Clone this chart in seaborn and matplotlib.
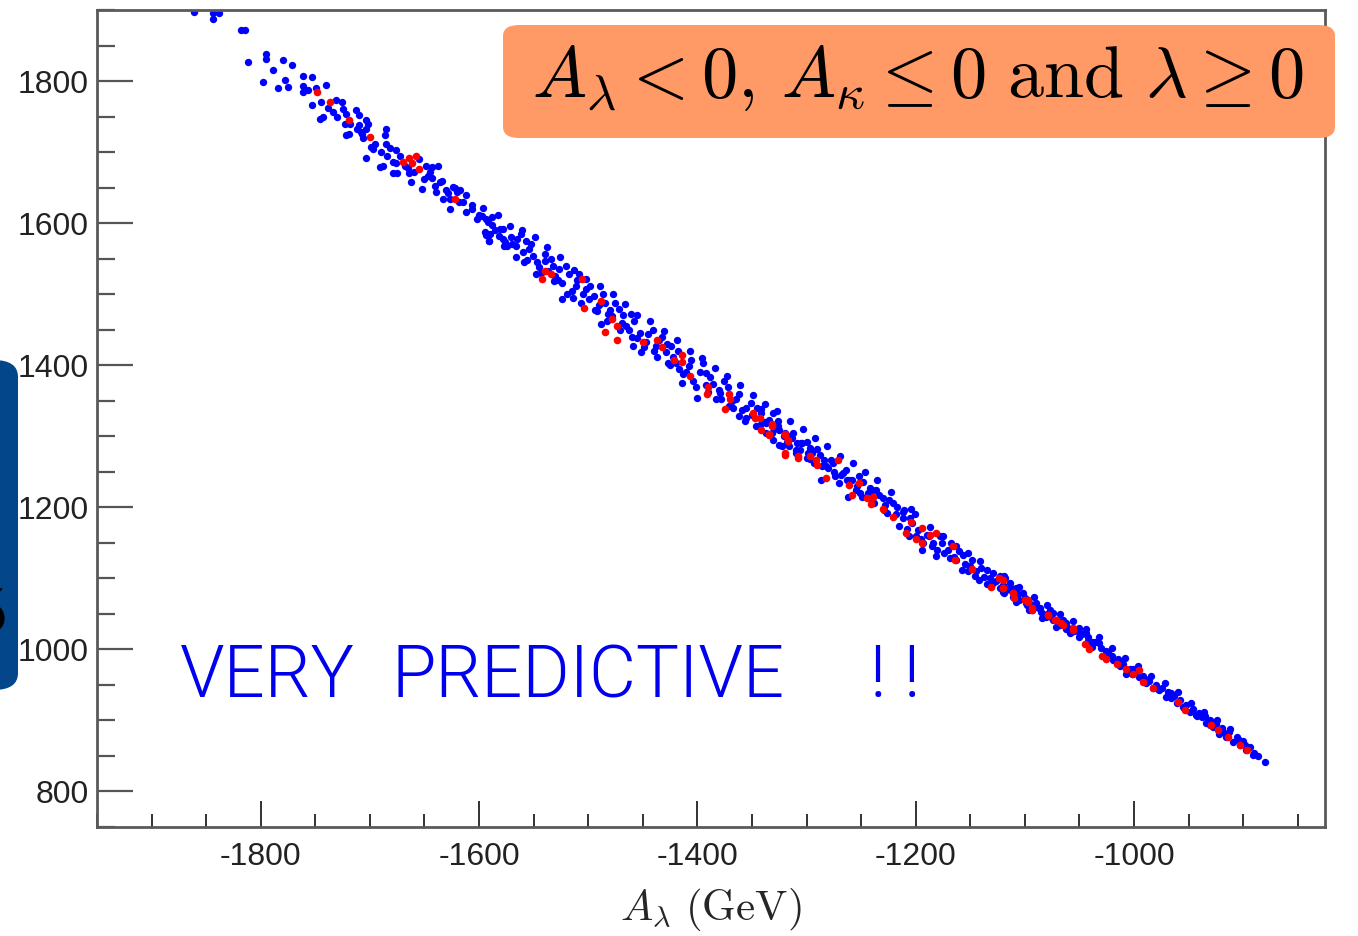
import numpy as np
import pandas as pd
import matplotlib
matplotlib.use("Agg")
import matplotlib.pyplot as plt
from matplotlib.patches import FancyBboxPatch
from matplotlib.ticker import MultipleLocator
import seaborn as sns

# scan points (A_lambda, A_kappa)
blue_x = [-1861, -1844, -1844, -1838, -1818, -1814, -1812, -1795, -1795, -1780,
          -1771, -1789, -1798, -1778, -1784, -1775, -1761, -1753, -1761, -1757,
          -1749, -1761, -1740, -1753, -1746, -1743, -1731, -1725, -1734, -1722,
          -1713, -1710, -1704, -1723, -1722, -1719, -1710, -1708, -1704, -1707,
          -1699, -1697, -1704, -1685, -1686, -1685, -1676, -1684, -1679, -1691,
          -1688, -1676, -1679, -1675, -1665, -1664, -1662, -1652, -1649, -1643,
          -1638, -1647, -1643, -1636, -1639, -1630, -1627, -1633, -1624, -1620,
          -1617, -1627, -1615, -1612, -1606, -1600, -1594, -1588, -1581, -1594,
          -1591, -1578, -1574,
          -1597, -1592, -1595, -1591, -1588, -1582, -1576, -1571, -1566, -1562,
          -1557, -1554, -1551, -1559, -1547, -1540, -1534, -1548, -1537, -1530,
          -1527, -1524, -1518, -1511, -1524, -1514, -1508, -1502, -1499, -1495,
          -1492, -1485, -1482, -1488, -1478, -1472, -1469, -1461, -1463, -1459,
          -1453, -1452, -1447, -1441, -1438, -1435, -1429, -1424, -1427, -1420,
          -1417, -1414, -1408, -1404, -1400, -1395, -1392, -1386, -1383, -1379,
          -1372, -1371, -1365, -1362, -1359, -1356, -1351, -1346, -1342, -1337,
          -1334, -1331, -1325, -1322, -1316, -1310, -1304, -1299,
          -1342, -1337, -1331, -1326, -1325, -1320, -1316, -1313, -1310, -1305,
          -1300, -1297, -1293, -1288, -1287, -1282, -1278, -1274, -1270, -1267,
          -1262, -1261, -1255, -1252, -1249, -1242, -1236, -1238, -1230, -1226,
          -1221, -1215, -1212, -1204, -1203, -1200, -1194, -1190, -1184, -1178,
          -1174, -1168, -1163, -1157, -1152, -1148, -1142, -1135, -1129, -1123,
          -1119, -1114, -1108, -1102, -1096, -1090, -1084, -1077, -1071, -1065,
          -1059, -1050, -1042,
          -1119, -1120, -1114, -1108, -1105, -1099, -1093, -1087, -1081, -1074,
          -1068, -1062, -1058, -1050, -1044, -1038, -1032, -1026, -1019, -1013,
          -1007, -1001, -995, -989, -983, -977, -971, -966, -961, -955,
          -949, -943, -938, -934, -928, -922, -916, -909, -903, -897,
          -891, -880,
          -1585, -1578, -1570, -1565, -1560, -1552, -1545, -1540, -1532, -1528,
          -1520, -1515, -1510, -1505, -1498, -1490, -1486, -1480, -1475, -1468,
          -1465, -1458, -1455, -1445, -1440, -1432, -1428, -1422, -1418, -1410,
          -1406, -1398, -1392, -1388, -1380, -1376, -1368, -1362, -1355, -1350,
          -1345, -1338, -1330, -1326, -1318, -1312, -1306, -1300,
          -1295, -1290, -1284, -1280, -1276, -1268, -1264, -1258, -1254, -1248,
          -1244, -1240, -1234, -1228, -1224, -1218, -1212, -1208, -1205, -1198,
          -1195, -1188, -1185, -1180, -1176, -1170, -1165, -1160, -1155, -1150,
          -1145, -1140, -1137, -1132, -1126, -1120, -1117, -1112, -1106, -1100,
          -1096, -1090, -1085, -1080, -1076, -1070, -1064, -1060, -1055, -1048,
          -1042, -1036, -1030, -1024, -1020, -1015, -1010, -1004, -998, -992,
          -986, -980, -974, -969, -963, -958, -952, -946, -940, -935,
          -930, -925, -919, -913, -906, -900, -894,
          -1596, -1590, -1583, -1577, -1572, -1566, -1561, -1556, -1549, -1543,
          -1538, -1531, -1526, -1519, -1513, -1507, -1502, -1494, -1489, -1483,
          -1477, -1471, -1466, -1460, -1455, -1449, -1443, -1437, -1431, -1425,
          -1419, -1413, -1407, -1401, -1396, -1390, -1384, -1378, -1373, -1367,
          -1361, -1355, -1349, -1343, -1338, -1332, -1327, -1321, -1315, -1309,
          -1303, -1297, -1292, -1286, -1281, -1275, -1269, -1263, -1257, -1251,
          -1246, -1240, -1235, -1229, -1223, -1217, -1211, -1206, -1201, -1193,
          -1187, -1181, -1175, -1169, -1163, -1158, -1152, -1146, -1141, -1135,
          -1129, -1123, -1118, -1111, -1105, -1098, -1092, -1086, -1080, -1074,
          -1068, -1062, -1056, -1050, -1044, -1038, -1032, -1026, -1020, -1014,
          -1008, -1002, -996, -990, -984, -978, -972, -966, -960, -954,
          -948, -942, -936, -930, -924, -918, -912, -904, -898, -890,
          -886,
          -1745, -1738, -1730, -1726, -1718, -1712, -1706, -1702, -1695, -1690,
          -1682, -1672, -1668, -1660, -1655, -1650, -1645, -1640, -1634, -1628,
          -1622, -1618, -1612, -1606, -1602]
blue_y = [1897, 1896, 1888, 1896, 1872, 1872, 1827, 1838, 1831, 1830,
          1823, 1815, 1799, 1802, 1790, 1791, 1807, 1805, 1793, 1787,
          1790, 1785, 1794, 1766, 1747, 1750, 1773, 1761, 1757, 1754,
          1759, 1752, 1745, 1740, 1724, 1726, 1738, 1728, 1733, 1726,
          1707, 1705, 1692, 1733, 1724, 1712, 1703, 1695, 1686, 1679,
          1681, 1684, 1670, 1670, 1677, 1670, 1658, 1648, 1681, 1679,
          1681, 1667, 1663, 1658, 1644, 1646, 1634, 1634, 1651, 1644,
          1646, 1620, 1630, 1615, 1620, 1611, 1606, 1597, 1592, 1583,
          1575, 1578, 1568,
          1610, 1601, 1587, 1575, 1608, 1582, 1573, 1580, 1568, 1585,
          1575, 1563, 1554, 1545, 1545, 1547, 1549, 1528, 1533, 1526,
          1535, 1516, 1528, 1512, 1493, 1495, 1528, 1507, 1493, 1498,
          1476, 1488, 1472, 1458, 1469, 1479, 1460, 1472, 1450, 1427,
          1446, 1418, 1432, 1450, 1427, 1436, 1418, 1427, 1403, 1403,
          1394, 1375, 1399, 1378, 1354, 1403, 1389, 1373, 1352, 1361,
          1370, 1342, 1352, 1328, 1337, 1321, 1347, 1314, 1333, 1305,
          1323, 1295, 1309, 1286, 1300, 1281, 1290, 1276,
          1338, 1319, 1333, 1314, 1288, 1305, 1286, 1298, 1277, 1291,
          1270, 1284, 1263, 1274, 1239, 1258, 1267, 1244, 1234, 1248,
          1215, 1239, 1225, 1244, 1215, 1227, 1225, 1206, 1213, 1192,
          1206, 1173, 1194, 1197, 1178, 1159, 1140, 1161, 1150, 1159,
          1135, 1150, 1126, 1133, 1110, 1126, 1098, 1112, 1093, 1103,
          1079, 1093, 1067, 1079, 1056, 1065, 1044, 1056, 1032, 1041,
          1023, 1030, 1018,
          1103, 1081, 1088, 1086, 1070, 1065, 1056, 1058, 1046, 1051,
          1034, 1037, 1025, 1018, 1023, 1004, 1009, 990, 985, 976,
          966, 973, 961, 952, 945, 943, 933, 938, 924, 919,
          912, 907, 905, 896, 891, 881, 877, 870, 865, 858,
          851, 841,
          1590, 1592, 1570, 1578, 1560, 1570, 1538, 1556, 1540, 1520,
          1540, 1505, 1520, 1500, 1512, 1485, 1500, 1478, 1488, 1470,
          1455, 1462, 1438, 1444, 1420, 1440, 1430, 1412, 1420, 1390,
          1408, 1390, 1372, 1383, 1365, 1378, 1350, 1360, 1340, 1330,
          1340, 1320, 1310, 1322, 1292, 1305, 1280, 1292,
          1276, 1282, 1266, 1255, 1262, 1245, 1253, 1238, 1230, 1236,
          1220, 1210, 1218, 1203, 1210, 1190, 1185, 1170, 1185, 1168,
          1155, 1160, 1145, 1140, 1150, 1140, 1130, 1138, 1120, 1118,
          1110, 1115, 1102, 1100, 1096, 1090, 1084, 1082, 1078, 1072,
          1066, 1060, 1052, 1050, 1045, 1040, 1038, 1030, 1026, 1022,
          1012, 1010, 1002, 996, 990, 986, 980, 972, 968, 962,
          956, 950, 946, 940, 934, 929, 922, 916, 911, 906,
          901, 895, 890, 884, 876, 871, 863,
          1622, 1585, 1612, 1568, 1596, 1552, 1590, 1548, 1580, 1530,
          1566, 1518, 1552, 1500, 1534, 1488, 1522, 1478, 1512, 1462,
          1500, 1450, 1486, 1440, 1470, 1425, 1462, 1412, 1448, 1400,
          1436, 1388, 1420, 1370, 1410, 1362, 1396, 1352, 1385, 1340,
          1372, 1326, 1358, 1316, 1345, 1305, 1336, 1300, 1322, 1290,
          1310, 1268, 1298, 1258, 1286, 1250, 1272, 1238, 1262, 1220,
          1250, 1224, 1238, 1196, 1222, 1200, 1196, 1160, 1190, 1150,
          1172, 1132, 1160, 1128, 1145, 1112, 1135, 1104, 1125, 1092,
          1108, 1086, 1100, 1074, 1088, 1062, 1074, 1058, 1062, 1042,
          1050, 1028, 1040, 1024, 1028, 1010, 1018, 998, 1002, 984,
          988, 966, 976, 958, 962, 944, 952, 932, 940, 918,
          924, 906, 912, 894, 900, 884, 888, 872, 866, 854,
          850,
          1770, 1762, 1750, 1770, 1740, 1732, 1720, 1740, 1712, 1700,
          1706, 1694, 1680, 1672, 1690, 1662, 1672, 1652, 1660, 1642,
          1650, 1630, 1640, 1626, 1606]

red_x = [-1748, -1737, -1719, -1700, -1670, -1664, -1658, -1661, -1655, -1622,
         -1540, -1542, -1534, -1506, -1504, -1488, -1478, -1474, -1485, -1474,
         -1450, -1437, -1432, -1421, -1414, -1414, -1407, -1390, -1391, -1371,
         -1370, -1375, -1349, -1347, -1342, -1332, -1334, -1320, -1317, -1320,
         -1308,
         -1343, -1332, -1334, -1320, -1317, -1320, -1308, -1297, -1291, -1290,
         -1271, -1282, -1261, -1252, -1258, -1245, -1239, -1241, -1230, -1221,
         -1204, -1209, -1194, -1200, -1194, -1187, -1181, -1166, -1164, -1148,
         -1124, -1131, -1120, -1111, -1110, -1100, -1097, -1093, -1079, -1072,
         -1065, -1056,
         -1120, -1120, -1111, -1100, -1097, -1093, -1079, -1071, -1067, -1056,
         -1045, -1041, -1029, -1026, -1016, -1007, -1001, -995, -992, -983,
         -960, -953, -929, -923, -914, -903, -896]
red_y = [1784, 1771, 1745, 1721, 1686, 1691, 1695, 1684, 1676, 1634,
         1533, 1521, 1528, 1522, 1481, 1491, 1465, 1455, 1447, 1436,
         1433, 1436, 1425, 1408, 1415, 1404, 1385, 1370, 1359, 1359,
         1352, 1338, 1333, 1326, 1309, 1315, 1302, 1302, 1295, 1276,
         1272,
         1326, 1317, 1303, 1303, 1293, 1274, 1270, 1272, 1267, 1260,
         1267, 1241, 1232, 1234, 1218, 1213, 1215, 1204, 1197, 1187,
         1180, 1164, 1171, 1155, 1150, 1161, 1164, 1145, 1126, 1113,
         1100, 1088, 1086, 1079, 1072, 1070, 1070, 1056, 1048, 1041,
         1034, 1027,
         1098, 1086, 1079, 1070, 1067, 1058, 1048, 1041, 1037, 1030,
         1008, 1001, 990, 987, 980, 973, 966, 971, 954, 945,
         926, 915, 893, 886, 877, 865, 858]

x_major = [-1800, -1600, -1400, -1200, -1000]
y_major = [800, 1000, 1200, 1400, 1600, 1800]

W, H = 1358, 936

sns.set_style("white")
plt.rcParams["font.family"] = ["Liberation Sans", "DejaVu Sans"]
plt.rcParams["mathtext.fontset"] = "cm"
plt.rcParams["axes.unicode_minus"] = False

fig = plt.figure(figsize=(W / 100, H / 100), dpi=100)
ax = fig.add_axes([97 / W, 1 - 827 / H, (1325 - 97) / W, (827 - 10) / H])

df_all = pd.DataFrame({"Alambda": blue_x, "Akappa": blue_y})
df_sel = pd.DataFrame({"Alambda": red_x, "Akappa": red_y})
sns.scatterplot(data=df_all, x="Alambda", y="Akappa", color="#0000ff",
                s=28, linewidth=0, ax=ax)
sns.scatterplot(data=df_sel, x="Alambda", y="Akappa", color="#ff0000",
                s=30, linewidth=0, ax=ax)

ax.set_xlim(-1950, -825)
ax.set_ylim(750, 1900)
ax.set_xticks(x_major)
ax.set_yticks(y_major)
ax.xaxis.set_minor_locator(MultipleLocator(50))
ax.yaxis.set_minor_locator(MultipleLocator(50))
ax.tick_params(bottom=True, left=True, top=False, right=False, which="both")
ax.tick_params(axis="x", which="major", direction="in", length=19, width=1.3,
               color="#222222", labelsize=23, pad=11, labelcolor="#222222")
ax.tick_params(axis="x", which="minor", direction="in", length=9.5, width=1.3,
               color="#222222")
ax.tick_params(axis="y", which="major", direction="in", length=26, width=1.6,
               color="#555555", labelsize=23, pad=6, labelcolor="#222222")
ax.tick_params(axis="y", which="minor", direction="in", length=13, width=1.6,
               color="#555555")
for sp in ax.spines.values():
    sp.set_color("#5a5a5a")
    sp.set_linewidth(2)

ax.set_xlabel(r"$A_\lambda\ \mathrm{(GeV)}$", fontsize=31, labelpad=10)
ax.set_ylabel("")

# orange condition box
box = FancyBboxPatch((503 / W, 1 - 138 / H), (1335 - 503) / W, (138 - 25) / H,
                     boxstyle="round,pad=0,rounding_size=0.012",
                     transform=fig.transFigure, facecolor="#ff9966",
                     edgecolor="none", zorder=5)
fig.patches.append(box)
fig.text(918 / W, 1 - 97 / H,
         r"$A_\lambda < 0,\, A_\kappa \leq 0\ \mathrm{and}\ \lambda \geq 0$",
         fontsize=52, ha="center", va="baseline", color="black", zorder=6)

# dark blue box cut at the left edge
lbox = FancyBboxPatch((-40 / W, 1 - 690 / H), 58 / W, 330 / H,
                      boxstyle="round,pad=0,rounding_size=0.018",
                      transform=fig.transFigure, facecolor="#04468a",
                      edgecolor="none", zorder=5)
fig.patches.append(lbox)
fig.text(6 / W, 1 - 632 / H, r"$5$", fontsize=46, ha="right", va="baseline",
         color="black", zorder=6)

# handwritten-style note
note_font = dict(fontsize=52, family=["Roboto", "DejaVu Sans"], fontweight=300,
                 color="#0000ee", ha="left", va="baseline", zorder=6)
fig.text(180 / W, 1 - 697 / H, "VERY", **note_font)
fig.text(392 / W, 1 - 697 / H, "PREDICTIVE", **note_font)
fig.text(870 / W, 1 - 697 / H, "! !", **note_font)

fig.savefig("out.png", dpi=100)
